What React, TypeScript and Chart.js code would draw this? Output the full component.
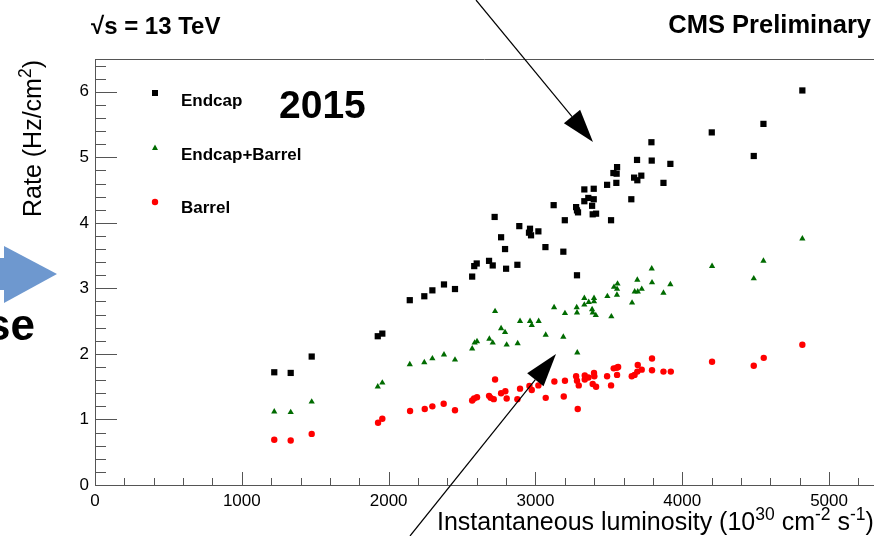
import React, { useEffect, useRef } from 'react';
import { Chart, registerables } from 'chart.js';

Chart.register(...registerables);

const FONT = "'Liberation Sans', Arial, Helvetica, sans-serif";

// Endcap (black squares)
const endcapLumi = [1221, 1333, 1476, 1926, 1957, 2144, 2243, 2298, 2377, 2452, 2569, 2583, 2600, 2684, 2709, 2722, 2766, 2793, 2800, 2877, 2890, 2956, 2963, 2970, 3020, 3068, 3124, 3190, 3200, 3277, 3283, 3283, 3290, 3333, 3333, 3360, 3386, 3390, 3397, 3397, 3413, 3488, 3515, 3531, 3551, 3553, 3556, 3653, 3672, 3694, 3692, 3721, 3790, 3792, 3872, 3919, 4201, 4487, 4553, 4818];
const endcapRate = [1.72, 1.71, 1.96, 2.27, 2.31, 2.82, 2.88, 2.97, 3.06, 2.99, 3.18, 3.34, 3.38, 3.42, 3.35, 4.09, 3.78, 3.60, 3.30, 3.36, 3.95, 3.85, 3.91, 3.81, 3.87, 3.63, 4.27, 3.56, 4.04, 4.24, 3.20, 4.19, 4.16, 4.51, 4.33, 4.38, 4.26, 4.13, 4.52, 4.36, 4.14, 4.58, 4.04, 4.76, 4.61, 4.75, 4.85, 4.36, 4.69, 4.65, 4.96, 4.72, 5.23, 4.95, 4.61, 4.90, 5.38, 5.02, 5.51, 6.02];

// Endcap+Barrel (green triangles)
const bothLumi = [1221, 1333, 1476, 1926, 1957, 2144, 2243, 2298, 2377, 2452, 2569, 2586, 2602, 2686, 2709, 2725, 2766, 2793, 2804, 2879, 2895, 2963, 2975, 3022, 3070, 3127, 3190, 3201, 3285, 3281, 3283, 3333, 3333, 3363, 3399, 3399, 3386, 3390, 3411, 3490, 3517, 3535, 3556, 3559, 3555, 3658, 3676, 3697, 3724, 3694, 3794, 3792, 3872, 3919, 4203, 4487, 4553, 4818];
const bothRate = [1.12, 1.11, 1.27, 1.50, 1.56, 1.84, 1.87, 1.93, 1.99, 1.91, 2.08, 2.17, 2.19, 2.23, 2.17, 2.65, 2.39, 2.33, 2.14, 2.16, 2.50, 2.50, 2.44, 2.50, 2.29, 2.71, 2.26, 2.62, 2.02, 2.71, 2.63, 2.85, 2.75, 2.79, 2.85, 2.80, 2.68, 2.63, 2.59, 2.88, 2.57, 3.02, 2.99, 3.07, 2.90, 2.78, 2.95, 2.95, 2.99, 3.13, 3.09, 3.30, 2.93, 3.06, 3.34, 3.15, 3.42, 3.76];

// Barrel (red circles)
const barrelLumi = [1221, 1333, 1476, 1928, 1957, 2146, 2246, 2298, 2375, 2452, 2569, 2582, 2602, 2684, 2695, 2716, 2725, 2766, 2795, 2804, 2877, 2895, 2959, 2975, 3020, 3070, 3129, 3193, 3201, 3288, 3277, 3283, 3295, 3336, 3336, 3361, 3399, 3401, 3390, 3413, 3488, 3515, 3533, 3554, 3563, 3556, 3656, 3675, 3694, 3697, 3724, 3794, 3794, 3872, 3922, 4203, 4487, 4555, 4818];
const barrelRate = [0.69, 0.68, 0.78, 0.95, 1.01, 1.13, 1.16, 1.20, 1.24, 1.14, 1.29, 1.32, 1.34, 1.36, 1.33, 1.31, 1.61, 1.40, 1.43, 1.32, 1.31, 1.47, 1.51, 1.45, 1.52, 1.33, 1.58, 1.35, 1.59, 1.16, 1.66, 1.59, 1.52, 1.67, 1.61, 1.64, 1.71, 1.66, 1.54, 1.50, 1.66, 1.52, 1.78, 1.79, 1.80, 1.68, 1.66, 1.68, 1.73, 1.83, 1.76, 1.93, 1.75, 1.73, 1.73, 1.88, 1.82, 1.94, 2.14];

const seriesLabels = ['Endcap', 'Endcap+Barrel', 'Barrel'];
const seriesColors = ['#000000', '#006b00', '#ff0000'];
const xRange = [0, 5306];
const yRange = [0, 6.5];
const xTickValues = [0, 1000, 2000, 3000, 4000, 5000];
const yTickValues = [0, 1, 2, 3, 4, 5, 6];

const pairs = (xs: number[], ys: number[]) => xs.map((x, i) => ({ x, y: ys[i] }));

type Part = { t: string; sup?: boolean };

function drawRich(ctx: CanvasRenderingContext2D, parts: Part[], x: number, y: number, size: number, weight: string) {
  let cx = x;
  for (const p of parts) {
    const s = p.sup ? size * 0.7 : size;
    ctx.font = `${weight} ${s}px ${FONT}`;
    ctx.fillText(p.t, cx, p.sup ? y - size * 0.42 : y);
    cx += ctx.measureText(p.t).width;
  }
}

function drawArrow(ctx: CanvasRenderingContext2D, x0: number, y0: number, x1: number, y1: number, headLen: number, halfW: number) {
  const dx = x1 - x0, dy = y1 - y0;
  const L = Math.hypot(dx, dy);
  const ux = dx / L, uy = dy / L;
  const bx = x1 - ux * headLen, by = y1 - uy * headLen;
  ctx.strokeStyle = '#000';
  ctx.lineWidth = 1.2;
  ctx.beginPath();
  ctx.moveTo(x0, y0);
  ctx.lineTo(bx, by);
  ctx.stroke();
  ctx.fillStyle = '#000';
  ctx.beginPath();
  ctx.moveTo(x1, y1);
  ctx.lineTo(bx - uy * halfW, by + ux * halfW);
  ctx.lineTo(bx + uy * halfW, by - ux * halfW);
  ctx.closePath();
  ctx.fill();
}

const decorPlugin = {
  id: 'decor',
  afterDraw(chart: any) {
    const ctx: CanvasRenderingContext2D = chart.ctx;
    const { left, right, top, bottom } = chart.chartArea;
    const xs = chart.scales.x;
    const ys = chart.scales.y;
    ctx.save();

    // top frame line
    ctx.strokeStyle = '#555';
    ctx.lineWidth = 1;
    ctx.beginPath();
    ctx.moveTo(left, Math.round(top) + 0.5);
    ctx.lineTo(right, Math.round(top) + 0.5);
    ctx.stroke();

    // inner ticks
    ctx.beginPath();
    for (let v = xRange[0]; v <= xRange[1]; v += 200) {
      const px = Math.round(xs.getPixelForValue(v)) + 0.5;
      const len = v % 1000 === 0 ? 13 : 7;
      ctx.moveTo(px, bottom);
      ctx.lineTo(px, bottom - len);
    }
    for (let i = 0; i * 0.2 <= yRange[1] + 1e-9; i++) {
      const py = Math.round(ys.getPixelForValue(i * 0.2)) + 0.5;
      const len = i % 5 === 0 ? 22 : 11;
      ctx.moveTo(left, py);
      ctx.lineTo(left + len, py);
    }
    ctx.stroke();

    // legend
    const lx = 155;
    const rows = [93, 148, 202];
    ctx.fillStyle = seriesColors[0];
    ctx.fillRect(lx - 3, rows[0] - 3, 6, 6);
    ctx.fillStyle = seriesColors[1];
    ctx.beginPath();
    ctx.moveTo(lx, rows[1] - 3.5);
    ctx.lineTo(lx + 3, rows[1] + 2);
    ctx.lineTo(lx - 3, rows[1] + 2);
    ctx.closePath();
    ctx.fill();
    ctx.fillStyle = seriesColors[2];
    ctx.beginPath();
    ctx.arc(lx, rows[2], 3.2, 0, Math.PI * 2);
    ctx.fill();

    ctx.fillStyle = '#000';
    ctx.textAlign = 'left';
    ctx.textBaseline = 'alphabetic';
    ctx.font = `bold 17px ${FONT}`;
    ctx.fillText(seriesLabels[0], 181, 106);
    ctx.fillText(seriesLabels[1], 181, 160);
    ctx.fillText(seriesLabels[2], 181, 213);

    // annotations
    ctx.font = `bold 39px ${FONT}`;
    ctx.fillText('2015', 279, 118);
    ctx.font = `bold 24px ${FONT}`;
    ctx.fillText('\u221As = 13 TeV', 91, 34);
    ctx.font = `bold 25.5px ${FONT}`;
    ctx.textAlign = 'right';
    ctx.fillText('CMS Preliminary', 871, 33);
    ctx.font = `bold 44px ${FONT}`;
    ctx.fillText('se', 35, 340);
    ctx.textAlign = 'left';

    // axis titles
    ctx.fillStyle = '#000';
    drawRich(ctx, [{ t: 'Instantaneous luminosity (10' }, { t: '30', sup: true }, { t: ' cm' }, { t: '-2', sup: true }, { t: ' s' }, { t: '-1', sup: true }, { t: ')' }], 437, 530, 25, 'normal');
    ctx.save();
    ctx.translate(41, 217);
    ctx.rotate(-Math.PI / 2);
    drawRich(ctx, [{ t: 'Rate (Hz/cm' }, { t: '2', sup: true }, { t: ')' }], 0, 0, 25, 'normal');
    ctx.restore();

    // blue arrow on the left
    ctx.fillStyle = '#6e98cf';
    ctx.fillRect(0, 258, 5, 32);
    ctx.beginPath();
    ctx.moveTo(4, 246);
    ctx.lineTo(57, 274);
    ctx.lineTo(4, 303);
    ctx.closePath();
    ctx.fill();

    // black arrows
    drawArrow(ctx, 476, 0, 593, 142, 33, 10.5);
    drawArrow(ctx, 410, 536, 556, 354, 33, 10.5);

    ctx.restore();
  },
};

export default function App() {
  const ref = useRef<HTMLCanvasElement | null>(null);
  useEffect(() => {
    if (!ref.current) return;
    const tickFont = { family: FONT, size: 17 };
    const chart = new Chart(ref.current, {
      type: 'scatter',
      data: {
        datasets: [
          { label: seriesLabels[0], data: pairs(endcapLumi, endcapRate), pointStyle: 'rect', pointRadius: 4.4, backgroundColor: seriesColors[0], borderWidth: 0 },
          { label: seriesLabels[1], data: pairs(bothLumi, bothRate), pointStyle: 'triangle', pointRadius: 3.6, backgroundColor: seriesColors[1], borderWidth: 0 },
          { label: seriesLabels[2], data: pairs(barrelLumi, barrelRate), pointStyle: 'circle', pointRadius: 3.2, backgroundColor: seriesColors[2], borderWidth: 0 },
        ],
      },
      options: {
        animation: false,
        responsive: false,
        events: [],
        layout: { autoPadding: false, padding: { top: 59, left: 0, right: 0, bottom: 0 } },
        plugins: { legend: { display: false }, tooltip: { enabled: false } },
        scales: {
          x: {
            type: 'linear',
            min: xRange[0],
            max: xRange[1],
            afterBuildTicks: (s: any) => { s.ticks = xTickValues.map((v) => ({ value: v })); },
            afterFit: (s: any) => { s.height = 51; s.paddingLeft = 0; s.paddingRight = 0; },
            grid: { display: false, drawTicks: false },
            border: { display: true, color: '#555', width: 1 },
            ticks: { autoSkip: false, maxRotation: 0, padding: 6, color: '#000', font: tickFont, callback: (v: any) => String(v) },
          },
          y: {
            type: 'linear',
            min: yRange[0],
            max: yRange[1],
            afterBuildTicks: (s: any) => { s.ticks = yTickValues.map((v) => ({ value: v })); },
            afterFit: (s: any) => { s.width = 95; s.paddingTop = 0; s.paddingBottom = 0; },
            grid: { display: false, drawTicks: false },
            border: { display: true, color: '#555', width: 1 },
            ticks: { autoSkip: false, padding: 6, color: '#000', font: tickFont, callback: (v: any) => String(v) },
          },
        },
      },
      plugins: [decorPlugin],
    } as any);
    return () => chart.destroy();
  }, []);

  return (
    <div style={{ position: 'fixed', left: 0, top: 0, width: 874, height: 536, background: '#fff', overflow: 'hidden' }}>
      <canvas ref={ref} width={874} height={536} style={{ display: 'block', width: 874, height: 536 }} />
    </div>
  );
}
